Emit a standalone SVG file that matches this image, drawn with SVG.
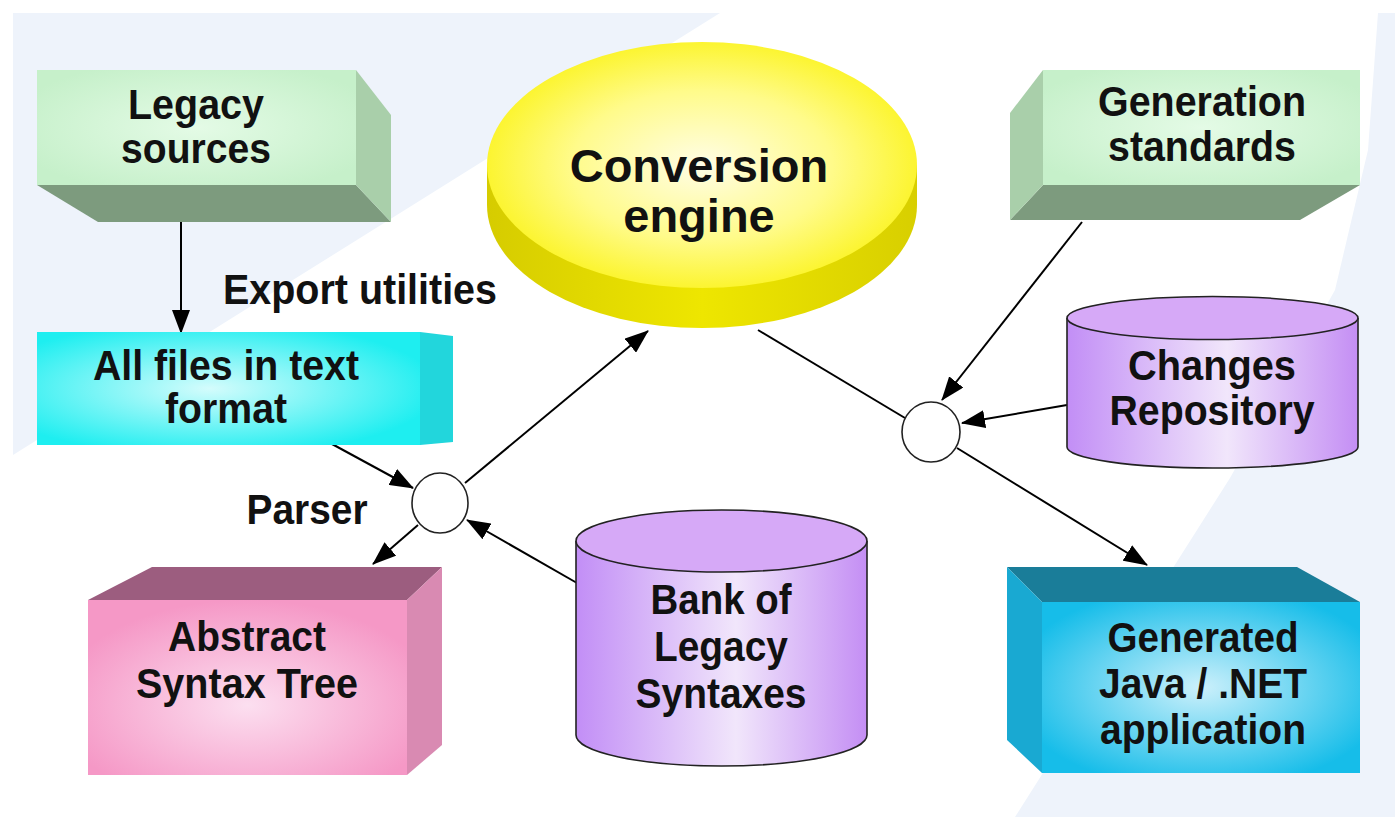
<svg xmlns="http://www.w3.org/2000/svg" width="1395" height="817" viewBox="0 0 1395 817">
<style>
.lbl{font-family:"Liberation Sans",Arial,sans-serif;font-weight:bold;font-size:42px;fill:#111;text-anchor:middle}
.big{font-size:47px}
.edge{stroke:#000;stroke-width:2;fill:none}
.arr{marker-end:url(#ah)}
.cyl{stroke:#222;stroke-width:1.6}
</style>
<defs>
<marker id="ah" viewBox="0 0 24 18" refX="23" refY="9" markerWidth="24" markerHeight="18" markerUnits="userSpaceOnUse" orient="auto">
<path d="M0,0 L24,9 L0,18 Z" fill="#000"/>
</marker>
<radialGradient id="gGreen" cx="50%" cy="50%" r="60%"><stop offset="0" stop-color="#e4fbe6"/><stop offset="1" stop-color="#c6f0ca"/></radialGradient>
<radialGradient id="gCyan" cx="45%" cy="50%" r="60%"><stop offset="0" stop-color="#d4fcfc"/><stop offset="1" stop-color="#1eeef0"/></radialGradient>
<radialGradient id="gPink" cx="50%" cy="60%" r="60%"><stop offset="0" stop-color="#fcdff0"/><stop offset="1" stop-color="#f598c6"/></radialGradient>
<radialGradient id="gBlue" cx="50%" cy="50%" r="60%"><stop offset="0" stop-color="#ccf0fb"/><stop offset="1" stop-color="#16bde9"/></radialGradient>
<radialGradient id="gYel" cx="50%" cy="50%" r="55%"><stop offset="0" stop-color="#fffde6"/><stop offset="0.55" stop-color="#fffb8a"/><stop offset="1" stop-color="#fbf31a"/></radialGradient>
<linearGradient id="gYelSide" x1="0" y1="0" x2="1" y2="0"><stop offset="0" stop-color="#d6cc00"/><stop offset="0.5" stop-color="#eee600"/><stop offset="1" stop-color="#d8cf00"/></linearGradient>
<linearGradient id="gPurp" x1="0" y1="0" x2="1" y2="0"><stop offset="0" stop-color="#c28ef6"/><stop offset="0.55" stop-color="#f1e6fb"/><stop offset="1" stop-color="#c48ef4"/></linearGradient>
</defs>

<g id="background">
<rect x="0" y="0" width="1395" height="817" fill="#ffffff"/>
<polygon points="13,13 720,13 13,455" fill="#eef3fb"/>
<polygon points="1378,13 1395,13 1395,817 1015,817 1230,478 1335,290 1368,150" fill="#eef3fb"/>
</g>

<g id="connectors">
<line class="edge arr" x1="181" y1="222" x2="181" y2="333"/>
<line class="edge arr" x1="332" y1="444" x2="413" y2="488"/>
<line class="edge arr" x1="465" y1="483" x2="648" y2="331"/>
<line class="edge arr" x1="418" y1="525" x2="373" y2="564"/>
<line class="edge arr" x1="577" y1="583" x2="467" y2="520"/>
<line class="edge" x1="758" y1="330" x2="905" y2="418"/>
<line class="edge arr" x1="1082" y1="222" x2="942" y2="400"/>
<line class="edge arr" x1="1067" y1="405" x2="962" y2="423"/>
<line class="edge arr" x1="957" y1="448" x2="1147" y2="565"/>
</g>

<g id="legacy-sources">
<polygon points="37,185 356,185 391,222 98,222" fill="#7d9b7e"/>
<polygon points="356,70 391,115 391,222 356,185" fill="#a9cfaa"/>
<rect x="37" y="70" width="319" height="115" fill="url(#gGreen)"/>
<text class="lbl" x="196" y="119" textLength="136" lengthAdjust="spacingAndGlyphs">Legacy</text>
<text class="lbl" x="196" y="163" textLength="150" lengthAdjust="spacingAndGlyphs">sources</text>
</g>

<g id="generation-standards">
<polygon points="1043,185 1360,185 1300,220 1010,220" fill="#7d9b7e"/>
<polygon points="1043,70 1010,113 1010,220 1043,185" fill="#a9cfaa"/>
<rect x="1043" y="70" width="317" height="115" fill="url(#gGreen)"/>
<text class="lbl" x="1202" y="116" textLength="208" lengthAdjust="spacingAndGlyphs">Generation</text>
<text class="lbl" x="1202" y="161" textLength="188" lengthAdjust="spacingAndGlyphs">standards</text>
</g>

<g id="conversion-engine">
<path d="M487,165 L487,205 A215,123 0 0 0 917,205 L917,165 Z" fill="url(#gYelSide)"/>
<ellipse cx="702" cy="165" rx="215" ry="123" fill="url(#gYel)"/>
<text class="lbl big" x="699" y="182">Conversion</text>
<text class="lbl big" x="699" y="232">engine</text>
</g>

<g id="all-files">
<polygon points="420,332 453,336 453,442 420,445" fill="#22d6dc"/>
<rect x="37" y="332" width="383" height="113" fill="url(#gCyan)"/>
<text class="lbl" x="226" y="380" textLength="266" lengthAdjust="spacingAndGlyphs">All files in text</text>
<text class="lbl" x="226" y="423" textLength="122" lengthAdjust="spacingAndGlyphs">format</text>
</g>

<g id="parser-node">
<ellipse cx="440" cy="503" rx="28" ry="30" fill="#fff" stroke="#222" stroke-width="1.6"/>
</g>
<g id="parser-label">
<text class="lbl" x="307" y="524" textLength="121" lengthAdjust="spacingAndGlyphs">Parser</text>
</g>
<g id="export-label">
<text class="lbl" x="360" y="304" textLength="274" lengthAdjust="spacingAndGlyphs">Export utilities</text>
</g>

<g id="merge-node">
<ellipse cx="931" cy="432" rx="29" ry="30" fill="#fff" stroke="#222" stroke-width="1.6"/>
</g>

<g id="abstract-syntax-tree">
<polygon points="88,600 407,600 442,567 152,567" fill="#9c5d7f"/>
<polygon points="407,600 442,567 442,745 407,775" fill="#d98ab2"/>
<rect x="88" y="600" width="319" height="175" fill="url(#gPink)"/>
<text class="lbl" x="247" y="651" textLength="158" lengthAdjust="spacingAndGlyphs">Abstract</text>
<text class="lbl" x="247" y="698" textLength="222" lengthAdjust="spacingAndGlyphs">Syntax Tree</text>
</g>

<g id="bank-of-legacy-syntaxes">
<path class="cyl" d="M576,541 L576,735 A145.5,31 0 0 0 867,735 L867,541" fill="url(#gPurp)"/>
<ellipse class="cyl" cx="721.5" cy="541" rx="145.5" ry="31" fill="#d6a9f7"/>
<text class="lbl" x="721" y="614" textLength="141" lengthAdjust="spacingAndGlyphs">Bank of</text>
<text class="lbl" x="721" y="661" textLength="134" lengthAdjust="spacingAndGlyphs">Legacy</text>
<text class="lbl" x="721" y="708" textLength="171" lengthAdjust="spacingAndGlyphs">Syntaxes</text>
</g>

<g id="changes-repository">
<path class="cyl" d="M1067,318 L1067,447 A145.5,21 0 0 0 1358,447 L1358,318" fill="url(#gPurp)"/>
<ellipse class="cyl" cx="1212.5" cy="318" rx="145.5" ry="21.5" fill="#d6a9f7"/>
<text class="lbl" x="1212" y="380" textLength="168" lengthAdjust="spacingAndGlyphs">Changes</text>
<text class="lbl" x="1212" y="425" textLength="205" lengthAdjust="spacingAndGlyphs">Repository</text>
</g>

<g id="generated-application">
<polygon points="1007,567 1297,567 1360,602 1042,602" fill="#1a7d99"/>
<polygon points="1007,567 1042,602 1042,773 1007,740" fill="#19a9d2"/>
<rect x="1042" y="602" width="318" height="171" fill="url(#gBlue)"/>
<text class="lbl" x="1203" y="652" textLength="191" lengthAdjust="spacingAndGlyphs">Generated</text>
<text class="lbl" x="1203" y="698" textLength="208" lengthAdjust="spacingAndGlyphs">Java / .NET</text>
<text class="lbl" x="1203" y="744" textLength="206" lengthAdjust="spacingAndGlyphs">application</text>
</g>
</svg>
